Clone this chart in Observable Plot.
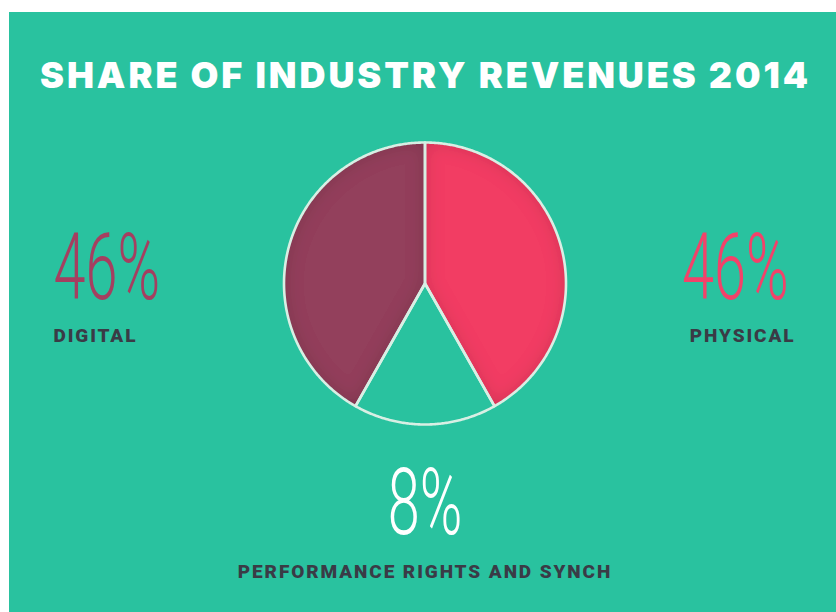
<!DOCTYPE html>
<html>
<head>
<meta charset="utf-8">
<script src="https://cdn.jsdelivr.net/npm/d3@7"></script>
<script src="https://cdn.jsdelivr.net/npm/@observablehq/plot@0.6"></script>
<style>
  html, body { margin: 0; padding: 0; background: #ffffff; width: 836px; height: 612px; overflow: hidden; }
  #card { position: absolute; left: 9px; top: 12px; width: 827px; height: 600px; background: #29c29f; overflow: hidden; }
  #title { position: absolute; left: 31px; top: 45px; margin: 0; white-space: nowrap;
           font-family: Inter, "DejaVu Sans", sans-serif; font-weight: 900; font-size: 36px; line-height: 1;
           color: #ffffff; }
  #chart { position: absolute; left: 0; top: 98px; }
</style>
</head>
<body>
<div id="card">
  <div id="title"></div>
  <div id="chart"></div>
</div>
<script>
// ---- data ----
const titleText = "SHARE OF INDUSTRY REVENUES 2014";
const categories = ["Physical", "Performance rights and synch", "Digital"];
// slice shares as drawn, clockwise from 12 o'clock
const sliceShares = [41.8, 16.4, 41.8];
const percentLabels = ["46%", "8%", "46%"];
const categoryLabels = ["PHYSICAL", "PERFORMANCE RIGHTS AND SYNCH", "DIGITAL"];

// ---- styles ----
const sliceColors = ["#f23e63", null, "#93405b"];
const percentColors = ["#f2426a", "#ffffff", "#a53f60"];
const labelColor = "#3a3b46";
const strokeColor = "#d8efe4";

// title
const titleEl = document.getElementById("title");
titleEl.textContent = titleText;
function fitTitle() {
  titleEl.style.letterSpacing = "0px";
  const w0 = titleEl.getBoundingClientRect().width;
  const ls = (768 - w0) / (titleText.length - 1);
  titleEl.style.letterSpacing = ls + "px";
}
fitTitle();

// pie geometry in unit coordinates
const total = d3.sum(sliceShares);
const pts = [];
let acc = 0;
categories.forEach((c, i) => {
  const a0 = acc / total * 2 * Math.PI;
  acc += sliceShares[i];
  const a1 = acc / total * 2 * Math.PI;
  pts.push({slice: c, x: 0, y: 0});
  const n = Math.max(2, Math.ceil((a1 - a0) / (Math.PI / 360)));
  for (let k = 0; k <= n; k++) {
    const a = a0 + (a1 - a0) * k / n;
    pts.push({slice: c, x: Math.sin(a), y: Math.cos(a)});
  }
});

const W = 827, H = 502, R = 141, cx = 415.5, cy = 173;
const xDomain = [-cx / R, (W - cx) / R];
const yDomain = [-(H - cy) / R, cy / R];

// label placement (unit coords)
const pctPos = [
  {x: (779 - cx) / R, y: (cy - 188) / R, anchor: "end"},
  {x: 0, y: (cy - 423) / R, anchor: "middle"},
  {x: (44 - cx) / R, y: (cy - 188) / R, anchor: "start"}
];
const lblPos = [
  {x: (786 - cx) / R, y: (cy - 231) / R, anchor: "end"},
  {x: 0, y: (cy - 467) / R, anchor: "middle"},
  {x: (44 - cx) / R, y: (cy - 231) / R, anchor: "start"}
];

const marks = [];
categories.forEach((c, i) => {
  if (sliceColors[i]) {
    marks.push(Plot.line(pts.filter(d => d.slice === c), {
      x: "x", y: "y", fill: sliceColors[i], stroke: "none", curve: "linear-closed"
    }));
  }
});
marks.push(Plot.line(pts, {x: "x", y: "y", z: "slice", stroke: strokeColor, strokeWidth: 2.6, curve: "linear-closed", fill: "none"}));
categories.forEach((c, i) => {
  marks.push(Plot.text([percentLabels[i]], {
    x: () => pctPos[i].x, y: () => pctPos[i].y, text: d => d,
    textAnchor: pctPos[i].anchor, lineAnchor: "bottom",
    fill: percentColors[i], fontFamily: "Roboto", fontWeight: 300, fontSize: 93
  }));
  marks.push(Plot.text([categoryLabels[i]], {
    x: () => lblPos[i].x, y: () => lblPos[i].y, text: d => d,
    textAnchor: lblPos[i].anchor, lineAnchor: "bottom",
    fill: labelColor, fontFamily: "Roboto", fontWeight: 900, fontSize: 19
  }));
});

const svg = Plot.plot({
  width: W, height: H,
  margin: 0,
  x: {domain: xDomain, axis: null},
  y: {domain: yDomain, axis: null},
  style: {background: "transparent", overflow: "visible"},
  marks
});

// defs: inner shadow filter
const ns = "http://www.w3.org/2000/svg";
function el(name, attrs, parent) {
  const e = document.createElementNS(ns, name);
  for (const k in attrs) e.setAttribute(k, attrs[k]);
  if (parent) parent.appendChild(e);
  return e;
}
const defs = el("defs", {});
const filt = el("filter", {id: "innerShade", x: "-10%", y: "-10%", width: "120%", height: "120%"}, defs);
el("feFlood", {"flood-color": "#000000", "flood-opacity": "0.32", result: "f"}, filt);
el("feComposite", {in: "f", in2: "SourceAlpha", operator: "out", result: "outside"}, filt);
el("feGaussianBlur", {in: "outside", stdDeviation: "9", result: "blur"}, filt);
el("feComposite", {in: "blur", in2: "SourceAlpha", operator: "in", result: "shadow"}, filt);
const merge = el("feMerge", {}, filt);
el("feMergeNode", {in: "SourceGraphic"}, merge);
el("feMergeNode", {in: "shadow"}, merge);
svg.insertBefore(defs, svg.firstChild);

svg.querySelectorAll('g[aria-label="line"]').forEach(g => {
  const f = g.getAttribute("fill");
  if (f && f !== "none") g.querySelectorAll("path").forEach(p => p.setAttribute("filter", "url(#innerShade)"));
});
svg.querySelectorAll("text").forEach(t => {
  if (t.textContent.includes("%")) {
    t.setAttribute("transform", (t.getAttribute("transform") || "") + " scale(0.62,1)");
  } else {
    t.setAttribute("letter-spacing", "1.9");
  }
});

document.getElementById("chart").appendChild(svg);
fitTitle();
if (document.fonts && document.fonts.ready) document.fonts.ready.then(fitTitle);
</script>
</body>
</html>
